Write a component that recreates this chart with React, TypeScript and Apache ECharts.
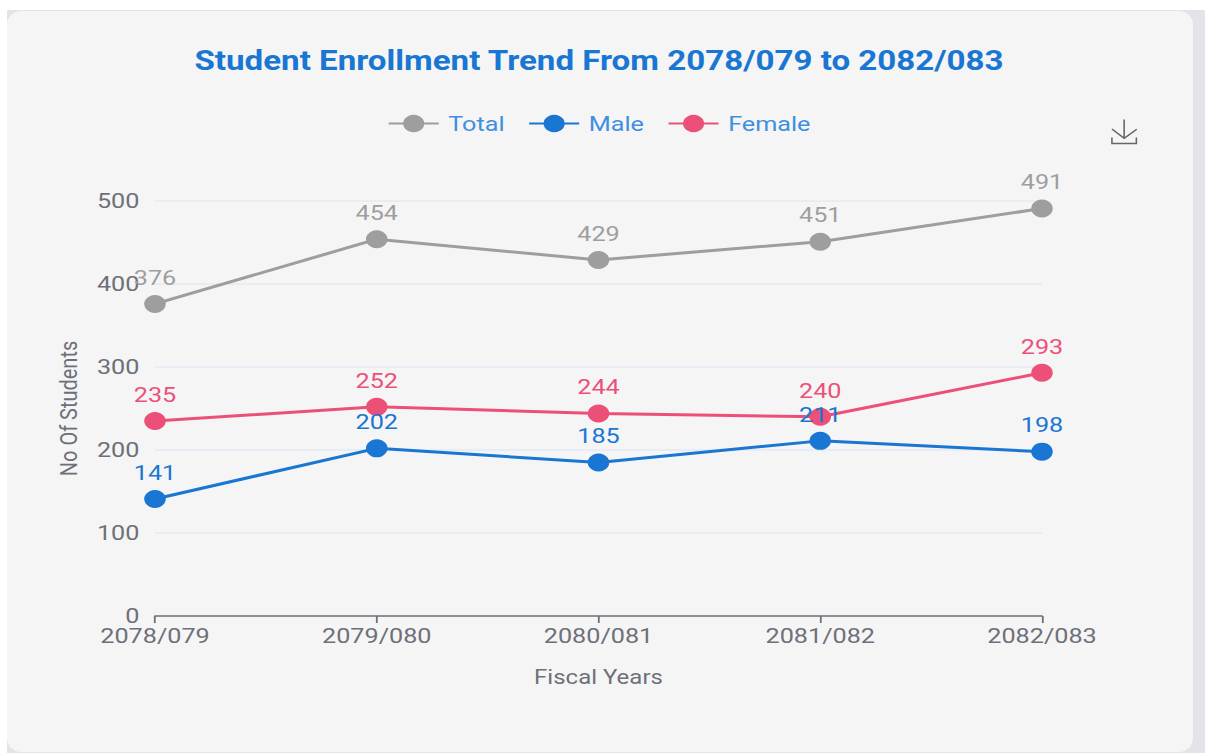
import React, { useEffect, useRef } from "react";
import * as echarts from "echarts";

const categories = ["2078/079", "2079/080", "2080/081", "2081/082", "2082/083"];
const total = [376, 454, 429, 451, 491];
const male = [141, 202, 185, 211, 198];
const female = [235, 252, 244, 240, 293];
const titleText = "Student Enrollment Trend From 2078/079 to 2082/083";

const GREY = "#9e9e9e";
const BLUE = "#1976d2";
const PINK = "#ec5079";
const AXIS_TEXT = "#6e7079";
const FONT = "Roboto";
const STRETCH = 1.2;
const px = (x: number) => x / STRETCH;

function makeSeries(name: string, data: number[], color: string) {
  return {
    name,
    type: "line",
    data,
    symbol: "circle",
    symbolSize: 18,
    itemStyle: { color },
    lineStyle: { color, width: 3 },
    label: { show: true, position: "top", distance: 7, color, fontSize: 21, fontFamily: FONT },
  };
}

export default function App() {
  const ref = useRef<HTMLDivElement>(null);
  useEffect(() => {
    document.body.style.margin = "0";
    const chart = echarts.init(ref.current!, undefined, { renderer: "svg" });
    chart.setOption({
      animation: false,
      backgroundColor: "transparent",
      title: {
        text: titleText,
        left: px(593),
        top: 41,
        textAlign: "center",
        textStyle: { color: BLUE, fontSize: 27.6, fontWeight: "bold", fontFamily: FONT },
      },
      legend: {
        top: 108,
        left: px(381.5),
        itemWidth: px(50),
        itemHeight: 22,
        itemGap: 19.5,
        textStyle: { color: "#3f8fde", fontSize: 21, fontFamily: FONT, padding: [0, 0, 0, 3] },
        data: ["Total", "Male", "Female"],
      },
      toolbox: {
        right: px(47),
        top: 102,
        itemSize: 24,
        feature: { saveAsImage: { show: true, title: " " } },
        iconStyle: { borderColor: "#666", borderWidth: 1.3 },
      },
      grid: { left: px(155), top: 201, width: px(887), height: 415 },
      xAxis: {
        type: "category",
        boundaryGap: false,
        data: categories,
        name: "Fiscal Years",
        nameLocation: "middle",
        nameGap: 51,
        nameTextStyle: { color: AXIS_TEXT, fontSize: 20, fontFamily: FONT },
        axisLine: { lineStyle: { color: "#6e7079", width: 1.5 } },
        axisTick: { show: true, length: 7, lineStyle: { color: "#6e7079", width: 1.5 } },
        axisLabel: { color: AXIS_TEXT, fontSize: 21, fontFamily: FONT, margin: 9, hideOverlap: false, interval: 0 },
      },
      yAxis: {
        type: "value",
        min: 0,
        max: 500,
        interval: 100,
        name: "No Of Students",
        nameLocation: "middle",
        nameGap: 62,
        nameTextStyle: { color: AXIS_TEXT, fontSize: 20, fontFamily: FONT },
        axisLine: { show: false },
        axisTick: { show: false },
        axisLabel: { color: AXIS_TEXT, fontSize: 21, fontFamily: FONT, margin: 13 },
        splitLine: { lineStyle: { color: "#e3e8f3", width: 1.5 } },
      },
      series: [makeSeries("Total", total, GREY), makeSeries("Male", male, BLUE), makeSeries("Female", female, PINK)],
    });
    return () => chart.dispose();
  }, []);

  return (
    <div style={{ position: "fixed", left: 0, top: 0, width: 1205, height: 753, background: "#fff", overflow: "hidden" }}>
      <div style={{ position: "absolute", left: 7, top: 10, width: 1198, height: 743, background: "#e3e3ea" }} />
      <div style={{ position: "absolute", left: 7, top: 11, width: 1186, height: 741, background: "#f5f5f5", borderRadius: 14 }} />
      <div
        ref={ref}
        style={{
          position: "absolute",
          left: 0,
          top: 0,
          width: 1205 / STRETCH,
          height: 753,
          transform: `scaleX(${STRETCH})`,
          transformOrigin: "0 0",
        }}
      />
    </div>
  );
}
